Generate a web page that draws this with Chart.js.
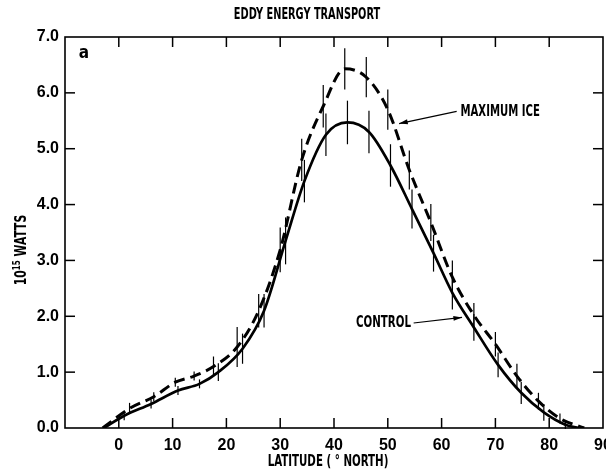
<!DOCTYPE html>
<html><head><meta charset="utf-8">
<script src="https://cdn.jsdelivr.net/npm/chart.js@4.4.0/dist/chart.umd.min.js"></script>
<style>html,body{margin:0;padding:0;background:#fff;}#wrap{width:606px;height:472px;position:relative;}</style>
</head><body><div id="wrap"><canvas id="c" width="606" height="472"></canvas></div>
<script>
// ---- data (latitude in degrees north, transport in 10^15 W) ----
const controlLat = [-2.8, 1, 6, 11, 15, 18.5, 23, 27, 31, 34.5, 38.5, 42.5, 46.5, 50.5, 54.5, 58.5, 62, 66, 70.5, 74.8, 79, 83, 85.5];
const controlVal = [0, 0.22, 0.43, 0.67, 0.79, 1.0, 1.42, 2.1, 3.35, 4.42, 5.25, 5.47, 5.3, 4.7, 3.92, 3.13, 2.42, 1.8, 1.13, 0.63, 0.28, 0.06, 0];
const controlErr = [0, 0.08, 0.08, 0.08, 0.08, 0.16, 0.27, 0.3, 0.42, 0.38, 0.38, 0.39, 0.38, 0.38, 0.35, 0.33, 0.3, 0.24, 0.22, 0.2, 0.15, 0.08, 0];
const iceLat = [-3, 2, 6.5, 10.5, 14, 17.6, 22, 26, 30, 34, 38, 42, 46, 50, 54, 58, 62, 66, 70, 74, 78, 82, 86.5];
const iceVal = [0, 0.35, 0.56, 0.82, 0.93, 1.1, 1.45, 2.1, 3.19, 4.8, 5.76, 6.43, 6.28, 5.7, 4.62, 3.68, 2.7, 2.02, 1.5, 0.93, 0.48, 0.17, 0];
const iceErr = [0, 0.1, 0.08, 0.08, 0.08, 0.18, 0.36, 0.3, 0.4, 0.38, 0.38, 0.37, 0.36, 0.36, 0.35, 0.33, 0.3, 0.22, 0.22, 0.22, 0.15, 0.09, 0];
const xTickVals = [0, 10, 20, 30, 40, 50, 60, 70, 80, 90];
const yTickVals = [0, 1, 2, 3, 4, 5, 6, 7];
const titleText = 'EDDY ENERGY TRANSPORT';
const xTitle = 'LATITUDE ( \u00B0 NORTH)';
const yTitleBase = '10', yTitleSup = '15', yTitleRest = ' WATTS';
const panelLabel = 'a';
const iceLabel = 'MAXIMUM ICE', controlLabel = 'CONTROL';

const FONT = '"DejaVu Sans Condensed", "DejaVu Sans", sans-serif';
const TICKFONT = '"Liberation Sans", Arial, sans-serif';

function pts(xs, ys) { return xs.map((v, i) => ({x: v, y: ys[i]})); }

const decor = {
  id: 'decor',
  afterDraw(chart) {
    const {ctx, chartArea: a, scales: {x, y}} = chart;
    const ln = (x1, y1, x2, y2) => { ctx.beginPath(); ctx.moveTo(x1, y1); ctx.lineTo(x2, y2); ctx.stroke(); };
    // narrow text: draw with horizontal compression
    const ntext = (str, px, py, align, size, sx) => {
      ctx.save();
      ctx.font = 'bold ' + size + 'px ' + FONT;
      ctx.textBaseline = 'middle';
      ctx.textAlign = align;
      ctx.translate(px, py);
      ctx.scale(sx, 1);
      ctx.fillText(str, 0, 0);
      ctx.restore();
    };
    ctx.save();
    ctx.strokeStyle = '#000'; ctx.fillStyle = '#000';
    // frame
    ctx.lineWidth = 1.6;
    ctx.strokeRect(a.left, a.top, a.right - a.left, a.bottom - a.top);
    // inward tick marks
    ctx.lineWidth = 1.5;
    x.ticks.forEach(t => {
      if (t.value >= 90) return;
      const px = x.getPixelForValue(t.value);
      ln(px, a.bottom, px, a.bottom - 10);
      ln(px, a.top, px, a.top + 10);
    });
    y.ticks.forEach(t => {
      if (t.value <= 0 || t.value >= 7) return;
      const py = y.getPixelForValue(t.value);
      ln(a.left, py, a.left + 10, py);
      ln(a.right, py, a.right - 10, py);
    });
    // error bars
    ctx.lineWidth = 1.2;
    chart.data.datasets.forEach(ds => {
      ds.errors.forEach((e, i) => {
        if (!e) return;
        const p = ds.data[i];
        const px = x.getPixelForValue(p.x);
        ln(px, y.getPixelForValue(p.y - e), px, y.getPixelForValue(p.y + e));
      });
    });
    // title and axis title
    ntext(titleText, 307, 15, 'center', 16, 0.68);
    ntext(xTitle, 328, 462, 'center', 15, 0.76);
    // panel label
    ctx.font = 'bold 17px ' + FONT;
    ctx.textAlign = 'center'; ctx.textBaseline = 'middle';
    ctx.fillText(panelLabel, 84, 54);
    // y title rotated
    ctx.save();
    ctx.translate(22, 250);
    ctx.rotate(-Math.PI / 2);
    ctx.scale(0.8, 1);
    ctx.textBaseline = 'middle';
    ctx.font = 'bold 15px ' + FONT;
    const w1 = ctx.measureText(yTitleBase).width;
    const w3 = ctx.measureText(yTitleRest).width;
    ctx.font = 'bold 10px ' + FONT;
    const w2 = ctx.measureText(yTitleSup).width;
    let sx = -(w1 + w2 + w3) / 2;
    ctx.textAlign = 'left';
    ctx.font = 'bold 15px ' + FONT;
    ctx.fillText(yTitleBase, sx, 0); sx += w1;
    ctx.font = 'bold 10px ' + FONT;
    ctx.fillText(yTitleSup, sx, -5); sx += w2;
    ctx.font = 'bold 15px ' + FONT;
    ctx.fillText(yTitleRest, sx, 0);
    ctx.restore();
    // annotations with arrows
    const arrow = (x1, y1, x2, y2) => {
      ctx.lineWidth = 1.2;
      ln(x1, y1, x2, y2);
      const ang = Math.atan2(y2 - y1, x2 - x1), L = 9, W = 0.28;
      ctx.beginPath();
      ctx.moveTo(x2, y2);
      ctx.lineTo(x2 - L * Math.cos(ang - W), y2 - L * Math.sin(ang - W));
      ctx.lineTo(x2 - L * Math.cos(ang + W), y2 - L * Math.sin(ang + W));
      ctx.closePath(); ctx.fill();
    };
    ntext(iceLabel, x.getPixelForValue(63.5), y.getPixelForValue(5.66), 'left', 15, 0.75);
    arrow(x.getPixelForValue(62.8), y.getPixelForValue(5.67), x.getPixelForValue(52.1), y.getPixelForValue(5.45));
    ntext(controlLabel, x.getPixelForValue(54.3), y.getPixelForValue(1.88), 'right', 15, 0.76);
    arrow(x.getPixelForValue(54.8), y.getPixelForValue(1.88), x.getPixelForValue(63.8), y.getPixelForValue(1.98));
    ctx.restore();
  }
};

new Chart(document.getElementById('c'), {
  type: 'line',
  data: {
    datasets: [
      { label: 'CONTROL', data: pts(controlLat, controlVal), errors: controlErr,
        borderColor: '#000', borderWidth: 2.7, pointRadius: 0, fill: false, cubicInterpolationMode: 'monotone' },
      { label: 'MAXIMUM ICE', data: pts(iceLat, iceVal), errors: iceErr,
        borderColor: '#000', borderWidth: 3, borderDash: [11, 6], pointRadius: 0, fill: false, cubicInterpolationMode: 'monotone' }
    ]
  },
  options: {
    responsive: false, animation: false, devicePixelRatio: 1,
    layout: { autoPadding: false, padding: { top: 37, right: 3, left: 0, bottom: 0 } },
    plugins: { legend: { display: false }, tooltip: { enabled: false }, title: { display: false } },
    scales: {
      x: {
        type: 'linear', min: -10, max: 90,
        afterBuildTicks: s => { s.ticks = xTickVals.map(v => ({ value: v })); },
        afterFit: s => { s.height = 44; s.paddingLeft = 0; s.paddingRight = 0; },
        grid: { display: false, drawTicks: false }, border: { display: false },
        ticks: { autoSkip: false, maxRotation: 0, padding: 8, color: '#000',
          font: { family: TICKFONT, size: 16, weight: 'bold' }, callback: v => String(v) }
      },
      y: {
        type: 'linear', min: 0, max: 7,
        afterBuildTicks: s => { s.ticks = yTickVals.map(v => ({ value: v })); },
        afterFit: s => { s.width = 65; s.paddingTop = 0; s.paddingBottom = 0; },
        grid: { display: false, drawTicks: false }, border: { display: false },
        ticks: { padding: 6, color: '#000',
          font: { family: TICKFONT, size: 16, weight: 'bold' }, callback: v => Number(v).toFixed(1) }
      }
    }
  },
  plugins: [decor]
});
</script></body></html>
